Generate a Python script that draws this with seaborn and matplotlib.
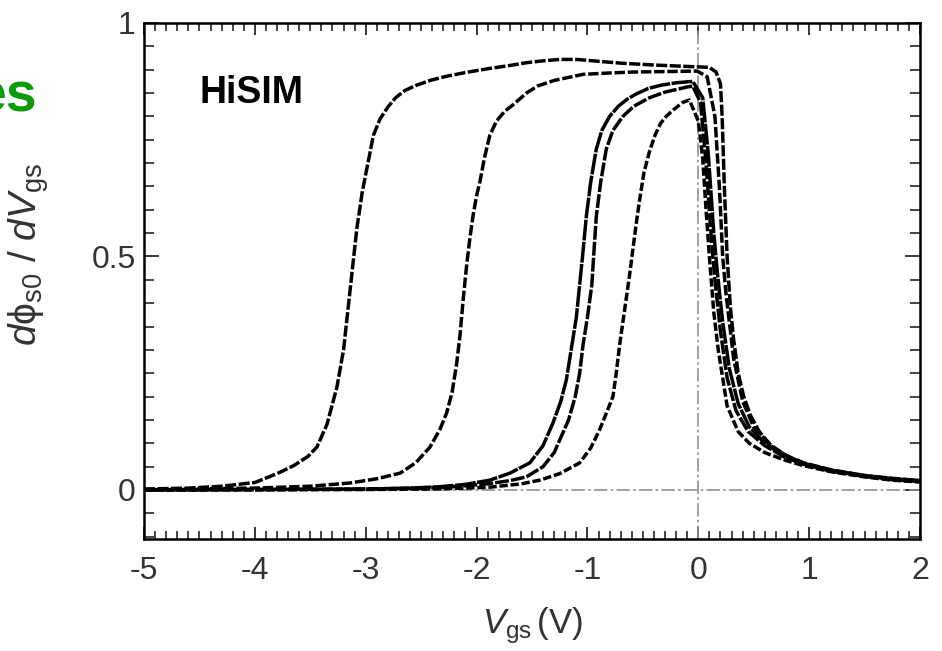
import numpy as np
import pandas as pd
import matplotlib
matplotlib.use("Agg")
import matplotlib.pyplot as plt
import seaborn as sns
from matplotlib.ticker import MultipleLocator

# ---------------- data ----------------
vA = [-5.0, -4.6, -4.3, -4.0, -3.8, -3.65, -3.52, -3.44, -3.35, -3.26, -3.2, -3.14, -3.08,
      -3.03, -2.98, -2.93, -2.87, -2.8, -2.73, -2.65, -2.55, -2.42, -2.27, -2.1, -1.9,
      -1.7, -1.55, -1.4, -1.25, -1.1, -0.9, -0.7, -0.4, -0.1, 0.1, 0.16, 0.2, 0.215,
      0.235, 0.26, 0.29, 0.32, 0.36, 0.41, 0.47, 0.55, 0.65, 0.78, 0.95, 1.2, 1.5, 1.75, 2.0]
yA = [0.002, 0.004, 0.008, 0.016, 0.035, 0.052, 0.072, 0.092, 0.14, 0.22, 0.3, 0.43, 0.56,
      0.64, 0.7, 0.76, 0.795, 0.82, 0.84, 0.855, 0.866, 0.877, 0.886, 0.894, 0.902,
      0.909, 0.915, 0.919, 0.922, 0.922, 0.918, 0.914, 0.91, 0.907, 0.905, 0.895, 0.87, 0.8,
      0.65, 0.5, 0.39, 0.32, 0.25, 0.2, 0.16, 0.125, 0.097, 0.075, 0.058, 0.043, 0.031, 0.025, 0.02]

vB = [-5.0, -4.0, -3.5, -3.14, -2.9, -2.69, -2.55, -2.42, -2.33, -2.27, -2.22, -2.18, -2.15,
      -2.12, -2.09, -2.06, -2.03, -2.0, -1.97, -1.93, -1.88, -1.82, -1.75, -1.67, -1.55,
      -1.45, -1.3, -1.04, -0.8, -0.59, -0.3, -0.01, 0.08, 0.15, 0.19, 0.22, 0.25, 0.28,
      0.32, 0.4, 0.5, 0.65, 0.8, 0.95, 1.2, 1.5, 1.75, 2.0]
yB = [0.001, 0.004, 0.008, 0.015, 0.024, 0.036, 0.058, 0.092, 0.13, 0.165, 0.21, 0.27, 0.33,
      0.41, 0.48, 0.54, 0.59, 0.63, 0.66, 0.71, 0.76, 0.79, 0.81, 0.825, 0.85,
      0.865, 0.877, 0.89, 0.893, 0.895, 0.896, 0.897, 0.885, 0.8, 0.65, 0.5, 0.42, 0.36,
      0.28, 0.19, 0.135, 0.095, 0.073, 0.057, 0.042, 0.031, 0.024, 0.02]

vC = [-5.0, -4.0, -3.0, -2.6, -2.33, -2.1, -1.88, -1.7, -1.52, -1.4, -1.31, -1.24, -1.19,
      -1.14, -1.1, -1.07, -1.04, -1.01, -0.97, -0.92, -0.87, -0.8, -0.72, -0.64, -0.56,
      -0.45, -0.33, -0.2, -0.05, 0.04, 0.09, 0.14, 0.17, 0.22, 0.28, 0.36, 0.46, 0.6,
      0.78, 0.95, 1.2, 1.5, 1.75, 2.0]
yC = [0.0, 0.001, 0.002, 0.004, 0.007, 0.012, 0.021, 0.036, 0.058, 0.095, 0.144, 0.19, 0.236,
      0.31, 0.37, 0.44, 0.51, 0.586, 0.66, 0.73, 0.77, 0.8, 0.822, 0.837, 0.848,
      0.86, 0.867, 0.872, 0.875, 0.84, 0.72, 0.55, 0.47, 0.36, 0.26, 0.185, 0.135, 0.1,
      0.072, 0.056, 0.041, 0.03, 0.023, 0.019]

vD = [-5.0, -4.0, -3.0, -2.5, -2.2, -1.9, -1.7, -1.55, -1.4, -1.3, -1.25, -1.17, -1.11,
      -1.07, -1.04, -1.0, -0.96, -0.94, -0.92, -0.88, -0.83, -0.77, -0.68, -0.58, -0.44,
      -0.3, -0.1, -0.05, 0.02, 0.07, 0.12, 0.15, 0.2, 0.26, 0.34, 0.45, 0.6, 0.78, 0.95,
      1.2, 1.5, 1.75, 2.0]
yD = [0.0, 0.001, 0.002, 0.004, 0.007, 0.013, 0.02, 0.028, 0.05, 0.08, 0.107, 0.15, 0.2,
      0.25, 0.31, 0.37, 0.44, 0.515, 0.586, 0.66, 0.73, 0.77, 0.8, 0.822, 0.84,
      0.852, 0.863, 0.865, 0.83, 0.7, 0.53, 0.45, 0.34, 0.24, 0.17, 0.125, 0.095, 0.07, 0.055,
      0.04, 0.029, 0.022, 0.018]

vE = [-5.0, -4.0, -3.0, -2.4, -2.1, -1.88, -1.6, -1.43, -1.25, -1.07, -0.97, -0.89, -0.82,
      -0.77, -0.74, -0.71, -0.68, -0.65, -0.62, -0.59, -0.56, -0.53, -0.49, -0.44, -0.39,
      -0.34, -0.29, -0.22, -0.14, -0.08, 0.0, 0.04, 0.07, 0.1, 0.14, 0.18, 0.26, 0.36,
      0.46, 0.6, 0.78, 0.95, 1.2, 1.5, 1.75, 2.0]
yE = [0.0, 0.0, 0.001, 0.002, 0.004, 0.006, 0.013, 0.021, 0.035, 0.058, 0.09, 0.129, 0.17,
      0.2, 0.25, 0.31, 0.36, 0.41, 0.46, 0.515, 0.57, 0.62, 0.68, 0.725, 0.76,
      0.785, 0.8, 0.815, 0.83, 0.835, 0.79, 0.71, 0.6, 0.5, 0.38, 0.3, 0.18, 0.125,
      0.1, 0.08, 0.064, 0.052, 0.039, 0.028, 0.021, 0.017]

curve_names = ["A", "B", "C", "D", "E"]
xticks = [-5, -4, -3, -2, -1, 0, 1, 2]
yticks = [0, 0.5, 1]
ytick_labels = ["0", "0.5", "1"]

# ---------------- style ----------------
sns.set_style("white")
plt.rcParams["font.family"] = ["Liberation Sans", "DejaVu Sans"]
plt.rcParams["mathtext.fontset"] = "custom"
plt.rcParams["mathtext.rm"] = "Liberation Sans"
plt.rcParams["mathtext.it"] = "Liberation Sans:italic"
plt.rcParams["mathtext.bf"] = "Liberation Sans:bold"

frames = []
for name, v, y in zip(curve_names, [vA, vB, vC, vD, vE], [yA, yB, yC, yD, yE]):
    frames.append(pd.DataFrame({"Vgs": v, "val": y, "curve": name}))
df = pd.concat(frames, ignore_index=True)

fig = plt.figure(figsize=(9.42, 6.51), dpi=100)
ax = fig.add_axes([144 / 942, 112 / 651, 776 / 942, 516 / 651])

# reference lines
ax.axhline(0, color="#909090", lw=1.2, ls=(0, (8, 2, 1.5, 2)), zorder=1)
ax.axvline(0, color="#909090", lw=1.2, ls=(0, (8, 2, 1.5, 2)), zorder=1)

dash_map = {"A": (3.2, 0.7), "B": (3.0, 0.8), "C": (6, 0.4), "D": (4, 0.6), "E": (2.4, 0.8)}
sns.lineplot(data=df, x="Vgs", y="val", hue="curve", style="curve",
             palette={n: "black" for n in curve_names}, dashes=dash_map,
             sort=False, estimator=None, legend=False, lw=2.5, ax=ax, zorder=3)

ax.set_xlim(-5, 2)
ax.set_ylim(-0.105, 1.0)
ax.set_xticks(xticks)
ax.set_xticklabels([str(t) for t in xticks])
ax.set_yticks(yticks)
ax.set_yticklabels(ytick_labels)
ax.xaxis.set_minor_locator(MultipleLocator(0.1))
ax.yaxis.set_minor_locator(MultipleLocator(0.05))

ax.tick_params(axis="x", which="major", direction="in", top=True, bottom=True,
               length=8.5, width=1.3, labelsize=23, pad=12, labelcolor="#333333")
ax.tick_params(axis="x", which="minor", direction="in", top=True, bottom=True,
               length=5.5, width=1.2)
ax.tick_params(axis="y", which="major", direction="in", left=True, right=True,
               length=10.5, width=1.3, labelsize=23, pad=6, labelcolor="#333333")
ax.tick_params(axis="y", which="minor", direction="in", left=True, right=True,
               length=7, width=1.2)
for s in ax.spines.values():
    s.set_linewidth(1.8)
    s.set_color("black")

ax.set_xlabel(r"$V_{\rm gs}\,$(V)", fontsize=25, color="#333333", labelpad=14)
ax.set_ylabel(r"$d\mathrm{\phi}_{\rm s0}\ /\ dV_{\rm gs}$", fontsize=28, color="#333333")
ax.yaxis.set_label_coords(-0.12, 0.552)

ax.text(0.071, 0.865, "HiSIM", transform=ax.transAxes, fontsize=27,
        fontweight="bold", ha="left", va="center", color="black")

fig.text(38 / 942, (651 - 112) / 651, "es", fontsize=40, fontweight="bold",
         color="#0a9a0a", ha="right", va="baseline")

fig.savefig("out.png", dpi=100)
